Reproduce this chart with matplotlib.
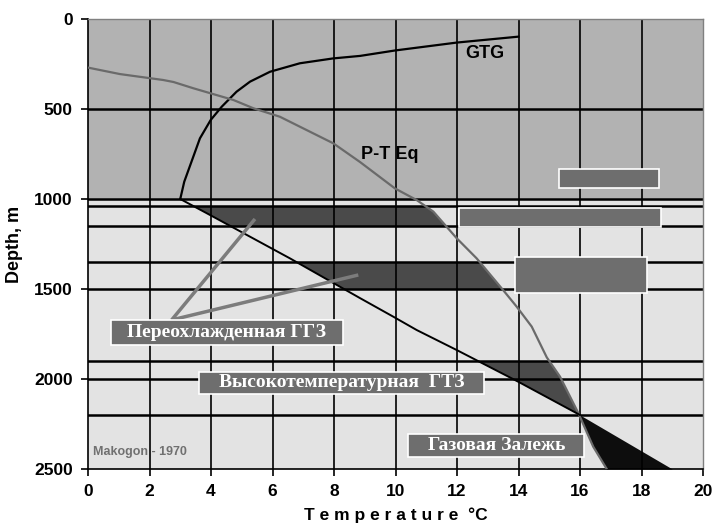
import numpy as np
import matplotlib
matplotlib.use("Agg")
import matplotlib.pyplot as plt
from matplotlib.patches import Rectangle

# GTG curve (temperature, depth)
gtg_t = [3.0, 3.13, 3.64, 3.99, 4.35, 4.83, 5.27, 5.92, 6.89, 7.97, 8.85, 9.98, 11.99, 14.0]
gtg_d = [1000, 904, 663, 561, 487, 404, 348, 293, 246, 219, 205, 175, 131, 98]

# P-T equilibrium curve
pt_t = [0.0, 1.04, 2.45, 2.78, 3.43, 4.73, 5.38, 6.24, 7.98, 8.85, 9.98, 10.69, 11.23,
        11.99, 12.64, 13.5, 13.94, 14.43, 14.92, 15.35, 15.95, 16.43, 16.87]
pt_d = [270, 306, 339, 350, 385, 450, 496, 543, 691, 795, 941, 1006, 1070,
        1218, 1330, 1506, 1598, 1709, 1880, 1987, 2191, 2376, 2500]

# geotherm below 1000 m
geo_t = [3.0, 3.97, 6.57, 8.85, 9.93, 10.69, 11.99, 13.99, 16.0, 19.0]
geo_d = [1000, 1089, 1330, 1551, 1654, 1728, 1839, 2015, 2200, 2500]

# hydrate zones (depth ranges)
zones = [(1040, 1150), (1350, 1500), (1900, 2200)]
gas_zone = (2200, 2500)

grid_t = [2, 4, 6, 8, 10, 12, 14, 16, 18]
grid_d = [500, 1000, 1040, 1150, 1350, 1500, 1900, 2000, 2200]

# empty grey boxes (t0, t1, d0, d1)
grey_boxes = [(15.32, 18.57, 833, 937), (12.08, 18.63, 1052, 1154), (13.89, 18.17, 1320, 1524)]

# labelled boxes
label_boxes = [("Переохлажденная ГГЗ", 0.75, 8.28, 1672, 1811),
               ("Высокотемпературная  ГТЗ", 3.62, 12.88, 1959, 2083),
               ("Газовая Залежь", 10.42, 16.13, 2306, 2435)]
pointer_from = (2.72, 1672)
pointer_to = [(5.43, 1111), (8.79, 1422)]

fig = plt.figure(figsize=(7.13, 5.23), dpi=100)
ax = fig.add_axes([88 / 713, 1 - 469 / 523, 615 / 713, 450 / 523])
ax.set_xlim(0, 20)
ax.set_ylim(2500, 0)

ax.axhspan(0, 1000, color="#b2b2b2", zorder=0)
ax.axhspan(1000, 2500, color="#e3e3e3", zorder=0)

for d0, d1 in zones:
    yy = np.linspace(d0, d1, 60)
    ax.fill_betweenx(yy, np.interp(yy, geo_d, geo_t), np.interp(yy, pt_d, pt_t),
                     color="#4a4a4a", lw=0, zorder=1)
yy = np.linspace(gas_zone[0], gas_zone[1], 60)
ax.fill_betweenx(yy, np.interp(yy, pt_d, pt_t), np.interp(yy, geo_d, geo_t),
                 color="#0d0d0d", lw=0, zorder=1)

for t in grid_t:
    ax.axvline(t, color="black", lw=1.2, zorder=2)
for d in grid_d:
    ax.axhline(d, color="black", lw=1.8, zorder=2)

ax.plot(gtg_t, gtg_d, color="black", lw=1.6, zorder=3)
ax.plot(pt_t, pt_d, color="#6a6a6a", lw=1.6, zorder=3)
ax.plot(geo_t[:-1], geo_d[:-1], color="black", lw=1.4, zorder=3)

for t0, t1, d0, d1 in grey_boxes:
    ax.add_patch(Rectangle((t0, d0), t1 - t0, d1 - d0, fc="#6e6e6e", ec="white", lw=1.2, zorder=4))

for tx, ty in pointer_to:
    ax.plot([pointer_from[0], tx], [pointer_from[1], ty], color="#7c7c7c", lw=2.5,
            solid_capstyle="butt", zorder=4)

for txt, t0, t1, d0, d1 in label_boxes:
    ax.add_patch(Rectangle((t0, d0), t1 - t0, d1 - d0, fc="#6e6e6e", ec="white", lw=1.2, zorder=5))
    ax.text((t0 + t1) / 2, (d0 + d1) / 2, txt, color="white", ha="center", va="center",
            family="Liberation Serif", weight="bold", fontsize=14, zorder=6)

ax.text(12.9, 194, "GTG", fontsize=13, weight="bold", family="Liberation Sans",
        ha="center", va="center", zorder=6)
ax.text(9.8, 755, "P-T Eq", fontsize=13, weight="bold", family="Liberation Sans",
        ha="center", va="center", zorder=6)
ax.text(0.15, 2404, "Makogon - 1970", fontsize=9, weight="bold", family="Liberation Sans",
        color="#707070", ha="left", va="center", zorder=6)

ax.set_xticks(range(0, 21, 2))
ax.set_yticks(range(0, 2501, 500))
for lab in ax.get_xticklabels() + ax.get_yticklabels():
    lab.set_fontfamily("Liberation Sans")
    lab.set_fontweight("bold")
    lab.set_fontsize(12.5)
ax.tick_params(direction="out", length=5, width=1.2, color="black", pad=6)
ax.set_xlabel("T e m p e r a t u r e  °C", fontsize=12.5, weight="bold", family="Liberation Sans",
              labelpad=6)
ax.set_ylabel("Depth, m", fontsize=13, weight="bold", family="Liberation Sans", labelpad=8)

for s in ["left", "bottom"]:
    ax.spines[s].set_color("black")
    ax.spines[s].set_linewidth(1.2)
for s in ["top", "right"]:
    ax.spines[s].set_color("#808080")
    ax.spines[s].set_linewidth(1.0)

fig.savefig("out.png", dpi=100)
